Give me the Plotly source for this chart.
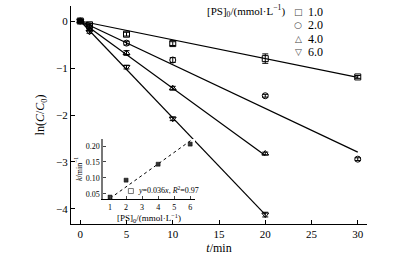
import plotly.graph_objects as go

# ---- main data ----
t_long = [0, 1, 5, 10, 20, 30]
t_short = [0, 1, 5, 10, 20]
ps_labels = ["1.0", "2.0", "4.0", "6.0"]
legend_glyphs = ["□", "○", "△", "▽"]
s1 = [0, -0.08, -0.28, -0.48, -0.80, -1.19]
s1_err = [0.02, 0.03, 0.04, 0.04, 0.10, 0.03]
s2 = [0, -0.13, -0.47, -0.83, -1.59, -2.94]
s2_err = [0.02, 0.03, 0.04, 0.05, 0.03, 0.03]
s3 = [0, -0.18, -0.68, -1.43, -2.82]
s3_err = [0.02, 0.03, 0.05, 0.04, 0.03]
s4 = [0, -0.23, -0.98, -2.08, -4.12]
s4_err = [0.02, 0.03, 0.04, 0.04, 0.05]

# ---- inset data ----
ps_conc = [1, 2, 4, 6]
k_vals = [0.040, 0.093, 0.143, 0.206]
outlier_x = [2.3]
outlier_y = [0.059]
k_fit = 0.036
fit_x = [1, 6.3]

serif = "Liberation Serif, Times New Roman, serif"
fig = go.Figure()

series = [
    (t_long, s1, s1_err, "square-open", k_vals[0], 30),
    (t_long, s2, s2_err, "circle-open", k_vals[1], 30),
    (t_short, s3, s3_err, "triangle-up-open", k_vals[2], 20),
    (t_short, s4, s4_err, "triangle-down-open", k_vals[3], 20),
]
for (tx, yv, ev, sym, k, tend), lab in zip(series, ps_labels):
    fig.add_trace(go.Scatter(
        x=[0, tend], y=[0, -k * tend], mode="lines",
        line=dict(color="black", width=1.2), showlegend=False, hoverinfo="skip"))
for (tx, yv, ev, sym, k, tend), lab in zip(series, ps_labels):
    fig.add_trace(go.Scatter(
        x=tx, y=yv, mode="markers", name=lab, showlegend=False,
        marker=dict(symbol=sym, size=6, color="black", line=dict(width=1)),
        error_y=dict(type="data", array=ev, color="black", thickness=1, width=3)))

# inset
fig.add_trace(go.Scatter(
    x=fit_x, y=[k_fit * v for v in fit_x], mode="lines", xaxis="x2", yaxis="y2",
    line=dict(color="black", width=1, dash="dot"), showlegend=False))
fig.add_trace(go.Scatter(
    x=ps_conc, y=k_vals, mode="markers", xaxis="x2", yaxis="y2",
    marker=dict(symbol="square", size=4, color="#333", line=dict(color="black", width=0.5)),
    showlegend=False))
fig.add_trace(go.Scatter(
    x=outlier_x, y=outlier_y, mode="markers", xaxis="x2", yaxis="y2",
    marker=dict(symbol="square-open", size=5, color="#555", line=dict(width=0.8)),
    showlegend=False))

W, H, L, R, T, B = 396, 262, 71, 29, 6, 38
pw, ph = W - L - R, H - T - B
def px(xp):
    return (xp - L) / pw
def py(yp):
    return (H - B - yp) / ph

annotations = [
    dict(text="[PS]<sub>0</sub>/(mmol·L<sup>−1</sup>)", x=px(287), y=py(11),
         xref="paper", yref="paper", xanchor="right", yanchor="middle",
         showarrow=False, font=dict(size=11)),
    dict(text="<i>y</i>=0.036<i>x</i>, <i>R</i><sup>2</sup>=0.97",
         x=2.6, y=0.062, xref="x2", yref="y2", xanchor="left", yanchor="middle",
         showarrow=False, font=dict(size=8)),
]
for i, (g, lab) in enumerate(zip(legend_glyphs, ps_labels)):
    yrow = 12 + i * 13.4
    annotations.append(dict(text=g, x=px(298), y=py(yrow), xref="paper", yref="paper",
                            xanchor="center", yanchor="middle", showarrow=False,
                            font=dict(size=9, family="DejaVu Sans", color="#444")))
    annotations.append(dict(text=lab, x=px(306), y=py(yrow), xref="paper", yref="paper",
                            xanchor="left", yanchor="middle", showarrow=False,
                            font=dict(size=12)))

fig.update_layout(
    width=W, height=H,
    margin=dict(l=L, r=R, t=T, b=B, autoexpand=False),
    paper_bgcolor="white", plot_bgcolor="white",
    font=dict(family=serif, size=11, color="black"),
    showlegend=False,
    xaxis=dict(range=[-1, 31], tickvals=[0, 5, 10, 15, 20, 25, 30],
               ticks="inside", ticklen=4, tickcolor="black",
               showline=True, linecolor="black", linewidth=1.2,
               showgrid=False, zeroline=False, automargin=False,
               title=dict(text="<i>t</i>/min", standoff=4, font=dict(size=12)),
               tickfont=dict(size=11)),
    yaxis=dict(range=[-4.32, 0.32], tickvals=[0, -1, -2, -3, -4],
               ticktext=["0", "−1", "−2", "−3", "−4"],
               ticks="inside", ticklen=4, tickcolor="black",
               showline=True, linecolor="black", linewidth=1.2,
               showgrid=False, zeroline=False, automargin=False,
               title=dict(text="ln(<i>C</i>/<i>C</i><sub>0</sub>)", standoff=8, font=dict(size=12)),
               tickfont=dict(size=11)),
    xaxis2=dict(domain=[px(103), px(195)], anchor="y2", range=[0.56, 6.3],
                tickvals=[1, 2, 3, 4, 5, 6], ticks="inside", ticklen=3,
                showline=True, linecolor="black", linewidth=1,
                showgrid=False, zeroline=False, tickfont=dict(size=8), automargin=False,
                title=dict(text="[PS]<sub>0</sub>/(mmol·L<sup>−1</sup>)", standoff=2,
                           font=dict(size=9))),
    yaxis2=dict(domain=[py(199), py(139)], anchor="x2", range=[0.034, 0.222],
                tickvals=[0.05, 0.10, 0.15, 0.20],
                ticktext=["0.05", "0.10", "0.15", "0.20"],
                ticks="inside", ticklen=3,
                showline=True, linecolor="#777", linewidth=1.5,
                showgrid=False, zeroline=False, tickfont=dict(size=8), automargin=False,
                title=dict(text="<i>k</i>/min<sup>−1</sup>", standoff=2,
                           font=dict(size=8))),
    annotations=annotations,
)

fig.write_html("out.html", config={"displayModeBar": False},
               post_script="document.body.style.margin='0';")
